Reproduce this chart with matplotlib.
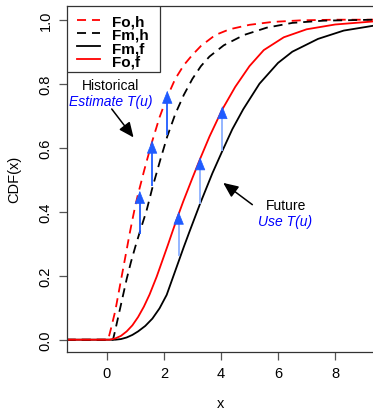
import matplotlib
matplotlib.use("Agg")
import matplotlib.pyplot as plt
from matplotlib.patches import Rectangle

# ---- data ----
foh_x = [-1.4, 0.05, 0.15, 0.3, 0.42, 0.55, 0.68, 0.8, 0.9, 1.0, 1.1, 1.2, 1.3, 1.4, 1.6, 1.85, 2.1, 2.4, 2.7, 3.0, 3.3, 3.8, 4.3, 5.0, 5.8, 6.8, 8.0, 9.4]
foh_y = [0, 0, 0.035, 0.09, 0.148, 0.21, 0.272, 0.33, 0.375, 0.418, 0.456, 0.49, 0.525, 0.558, 0.622, 0.695, 0.755, 0.815, 0.858, 0.89, 0.918, 0.952, 0.97, 0.984, 0.993, 0.998, 1.0, 1.0]

fmh_x = [-1.4, 0.22, 0.3, 0.4, 0.55, 0.7, 0.85, 1.0, 1.16, 1.4, 1.6, 1.87, 2.12, 2.4, 2.7, 3.0, 3.3, 3.6, 4.1, 4.8, 5.6, 6.5, 7.6, 9.4]
fmh_y = [0, 0, 0.03, 0.07, 0.13, 0.19, 0.243, 0.29, 0.337, 0.405, 0.475, 0.56, 0.635, 0.705, 0.765, 0.815, 0.855, 0.885, 0.92, 0.952, 0.975, 0.99, 0.997, 1.0]

fof_x = [-1.4, 0.1, 0.3, 0.5, 0.7, 0.9, 1.1, 1.3, 1.5, 1.75, 1.98, 2.15, 2.33, 2.52, 2.68, 3.0, 3.27, 3.6, 4.05, 4.5, 5.0, 5.5, 6.2, 7.0, 8.0, 9.4]
fof_y = [0, 0, 0.004, 0.012, 0.026, 0.045, 0.071, 0.103, 0.141, 0.197, 0.255, 0.298, 0.345, 0.393, 0.432, 0.505, 0.565, 0.635, 0.72, 0.79, 0.855, 0.905, 0.945, 0.97, 0.985, 0.995]

fmf_x = [-1.4, 0.3, 0.5, 0.7, 0.9, 1.1, 1.35, 1.6, 1.85, 2.1, 2.3, 2.52, 2.7, 2.9, 3.27, 3.7, 4.05, 4.4, 4.78, 5.35, 6.0, 6.5, 7.4, 8.3, 9.4]
fmf_y = [0, 0, 0.002, 0.007, 0.015, 0.026, 0.043, 0.066, 0.098, 0.14, 0.19, 0.245, 0.29, 0.338, 0.425, 0.52, 0.59, 0.658, 0.72, 0.8, 0.865, 0.9, 0.94, 0.966, 0.982]

hist_arrow_x = [1.16, 1.59, 2.12]
hist_arrow_tail = [0.33, 0.48, 0.64]
hist_arrow_head = [0.465, 0.622, 0.778]

fut_arrow_x = [2.52, 3.27, 4.05]
fut_arrow_tail = [0.26, 0.425, 0.59]
fut_arrow_head = [0.40, 0.57, 0.73]

legend_labels = ["Fo,h", "Fm,h", "Fm,f", "Fo,f"]
x_ticks = [0, 2, 4, 6, 8]
y_ticks = [0.0, 0.2, 0.4, 0.6, 0.8, 1.0]

# ---- figure ----
plt.rcParams['font.family'] = ['Liberation Sans', 'DejaVu Sans']
W, H = 373, 410
fig = plt.figure(figsize=(W / 100, H / 100), dpi=100)
L, R, T, B = 67.3, 374.0, 7.0, 352.7
ax = fig.add_axes([L / W, (H - B) / H, (R - L) / W, (B - T) / H])
ax.set_xlim(-1.38, 9.36)
ax.set_ylim(-0.0375, 1.0428)

lw = 1.3
dash = (5.0, 3.3)
ax.plot(foh_x, foh_y, color='red', lw=lw, dashes=dash)
ax.plot(fmh_x, fmh_y, color='black', lw=lw, dashes=dash)
ax.plot(fmf_x, fmf_y, color='black', lw=lw)
ax.plot(fof_x, fof_y, color='red', lw=lw)

head_color = '#1F5BFF'
head_len = 0.037  # in data units (y)

def blue_arrow(x, tail, head, shaft_color):
    base = head - head_len
    ax.plot([x, x], [tail, base], color=shaft_color, lw=1.3, solid_capstyle='butt')
    ax.annotate('', xy=(x, head), xytext=(x, base),
                arrowprops=dict(arrowstyle='-|>,head_length=0.42,head_width=0.17',
                                mutation_scale=20, color=head_color, lw=0.5,
                                shrinkA=0, shrinkB=0))

for x, t, h in zip(hist_arrow_x, hist_arrow_tail, hist_arrow_head):
    blue_arrow(x, t, h, head_color)
for x, t, h in zip(fut_arrow_x, fut_arrow_tail, fut_arrow_head):
    blue_arrow(x, t, h, '#8CB0FF')

# annotations
fs = 10
ax.text(0.15, 0.796, "Historical", ha='center', va='center', fontsize=fs, color='black')
ax.text(0.14, 0.746, "Estimate T(u)", ha='center', va='center', fontsize=fs, color='blue', style='italic')
ax.annotate('', xy=(0.94, 0.632), xytext=(0.175, 0.721),
            arrowprops=dict(arrowstyle='-|>,head_length=0.45,head_width=0.2',
                            mutation_scale=20, color='black', lw=1.1, shrinkA=0, shrinkB=0))
ax.text(6.27, 0.422, "Future", ha='center', va='center', fontsize=fs, color='black')
ax.text(6.245, 0.372, "Use T(u)", ha='center', va='center', fontsize=fs, color='blue', style='italic')
ax.annotate('', xy=(4.08, 0.49), xytext=(5.10, 0.422),
            arrowprops=dict(arrowstyle='-|>,head_length=0.45,head_width=0.2',
                            mutation_scale=20, color='black', lw=1.1, shrinkA=0, shrinkB=0))

# legend (R-style box at top-left)
tr = ax.transAxes
def ax_x(px):
    return (px - L) / (R - L)
def ax_y(py):
    return (B - py) / (B - T)
ax.add_patch(Rectangle((0, ax_y(72.7)), ax_x(160), 1 - ax_y(72.7), transform=tr,
                       facecolor='white', edgecolor='#333333', lw=0.9, zorder=5))
leg_styles = [('red', dash), ('black', dash), ('black', None), ('red', None)]
line_py = [20.7, 34.0, 47.0, 60.3]
base_py = [26.7, 40.0, 53.3, 66.7]
for (c, d), lab, lp, bp in zip(leg_styles, legend_labels, line_py, base_py):
    kw = dict(color=c, lw=lw, transform=tr, zorder=6)
    if d is not None:
        kw['dashes'] = d
    ax.plot([ax_x(77), ax_x(100)], [ax_y(lp), ax_y(lp)], **kw)
    ax.text(ax_x(111.7), ax_y(bp), lab, transform=tr, fontsize=11, fontweight='bold',
            ha='left', va='baseline', zorder=6)

# axes styling (R-like)
for side in ['left', 'bottom', 'top', 'right']:
    ax.spines[side].set_color('#333333')
    ax.spines[side].set_linewidth(0.9)
ax.set_xticks(x_ticks)
ax.set_xticklabels([str(v) for v in x_ticks])
ax.set_yticks(y_ticks)
ax.set_yticklabels([f"{v:.1f}" for v in y_ticks])
ax.tick_params(axis='both', direction='out', length=5.5, width=0.9, color='#555555',
               labelsize=10.5, pad=5)
for lab in ax.get_yticklabels():
    lab.set_rotation(90)
    lab.set_va('center')

ax.set_xlabel('x', fontsize=10.5)
ax.xaxis.set_label_coords(0.5, (B - 404) / (B - T))
ax.xaxis.label.set_va('center')
ax.set_ylabel('CDF(x)', fontsize=10.5)
ax.yaxis.set_label_coords((14 - L) / (R - L), 0.5)
ax.yaxis.label.set_va('center')

fig.savefig('out.png', dpi=100)
